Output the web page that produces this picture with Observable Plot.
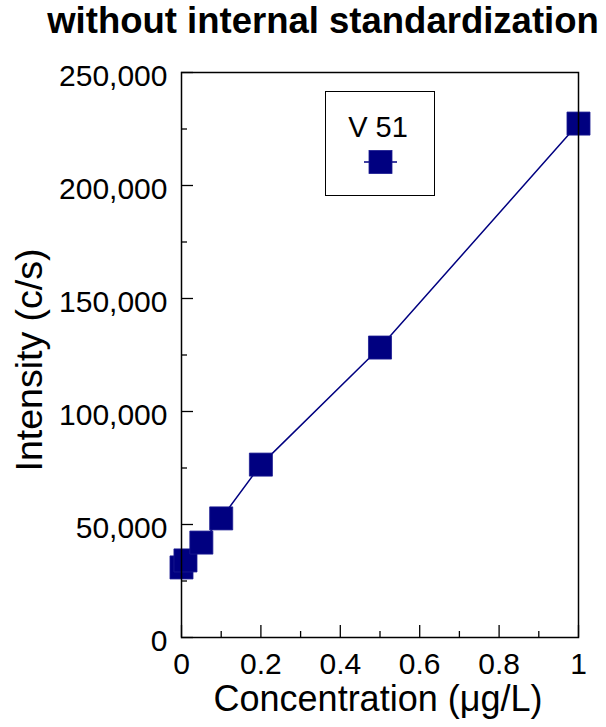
<!DOCTYPE html>
<html>
<head>
<meta charset="utf-8">
<script src="https://cdn.jsdelivr.net/npm/d3@7"></script>
<script src="https://cdn.jsdelivr.net/npm/@observablehq/plot@0.6"></script>
<style>
  html, body { margin: 0; padding: 0; background: white; }
  #wrap { position: relative; width: 606px; height: 727px; font-family: "Liberation Sans", Arial, sans-serif; }
  #legend { position: absolute; left: 325px; top: 91px; width: 110px; height: 105px; box-sizing: border-box;
            border: 1.5px solid black; background: white; }
  #legend .lab { position: absolute; left: -2px; width: 100%; top: 21px; text-align: center; font-size: 29px; line-height: 1; color: black; }
  #legend svg { position: absolute; left: 36px; top: 58px; }
</style>
</head>
<body>
<div id="wrap"></div>
<script>
const title = "without internal standardization";
const xLabel = "Concentration (μg/L)";
const yLabel = "Intensity (c/s)";
const seriesName = "V 51";
const seriesColor = "#000080";

const concentration = [0, 0.01, 0.05, 0.1, 0.2, 0.5, 1];
const intensity = [31000, 34100, 42000, 52700, 76500, 128300, 227400];

const xTicksMajor = [0, 0.2, 0.4, 0.6, 0.8, 1];
const xTicksMinor = [0.1, 0.3, 0.5, 0.7, 0.9];
const yTicksMajor = [0, 50000, 100000, 150000, 200000, 250000];
const yTicksMinor = [25000, 75000, 125000, 175000, 225000];

const data = concentration.map((c, i) => ({c, v: intensity[i]}));

const chart = Plot.plot({
  width: 606,
  height: 727,
  marginLeft: 181,
  marginRight: 28,
  marginTop: 72,
  marginBottom: 90,
  style: {fontFamily: '"Liberation Sans", Arial, sans-serif', fontSize: "30px", color: "black", background: "white", overflow: "visible"},
  x: {domain: [0, 1]},
  y: {domain: [0, 250000]},
  marks: [
    Plot.line(data, {x: "c", y: "v", stroke: seriesColor, strokeWidth: 1.5}),
    Plot.dot(data, {x: "c", y: "v", symbol: "square", r: 13, fill: seriesColor, stroke: "#1a1a90", strokeWidth: 0.8}),
    Plot.axisX({ticks: xTicksMajor, tickSize: 0, tickPadding: 15, tickFormat: d => String(d), fontSize: 30, label: null}),
    Plot.axisX({ticks: xTicksMajor, tickSize: -12, tickFormat: () => "", strokeWidth: 1.3, label: null}),
    Plot.axisX({ticks: xTicksMinor, tickSize: -6, tickFormat: () => "", strokeWidth: 1.3, label: null}),
    Plot.axisY({ticks: yTicksMajor, tickSize: 0, tickPadding: 14, tickFormat: d3.format(","), fontSize: 30, dy: 4, label: null}),
    Plot.axisY({ticks: yTicksMajor, tickSize: -12, tickFormat: () => "", strokeWidth: 1.3, label: null}),
    Plot.axisY({ticks: yTicksMinor, tickSize: -6, tickFormat: () => "", strokeWidth: 1.3, label: null}),
    Plot.frame({stroke: "black", strokeWidth: 1.5}),
    Plot.text([title], {frameAnchor: "top", dx: -57, dy: -40, lineAnchor: "bottom", fontWeight: "bold", fontSize: 36.5, fill: "black"}),
    Plot.text([xLabel], {frameAnchor: "bottom", dx: -2, dy: 73, lineAnchor: "bottom", fontSize: 36, fill: "black"}),
    Plot.text([yLabel], {frameAnchor: "left", dx: -140, dy: 5, rotate: -90, lineAnchor: "bottom", textAnchor: "middle", fontSize: 37.5, fill: "black"})
  ]
});

const wrap = document.getElementById("wrap");
wrap.appendChild(chart);

const legend = document.createElement("div");
legend.id = "legend";
legend.innerHTML = `<div class="lab">${seriesName}</div>
<svg width="36" height="24" viewBox="0 0 36 24">
  <line x1="2" y1="12" x2="35" y2="12" stroke="${seriesColor}" stroke-width="1.5"/>
  <rect x="7" y="0.5" width="23" height="23" fill="${seriesColor}" stroke="#1a1a90" stroke-width="0.8"/>
</svg>`;
wrap.appendChild(legend);
</script>
</body>
</html>
